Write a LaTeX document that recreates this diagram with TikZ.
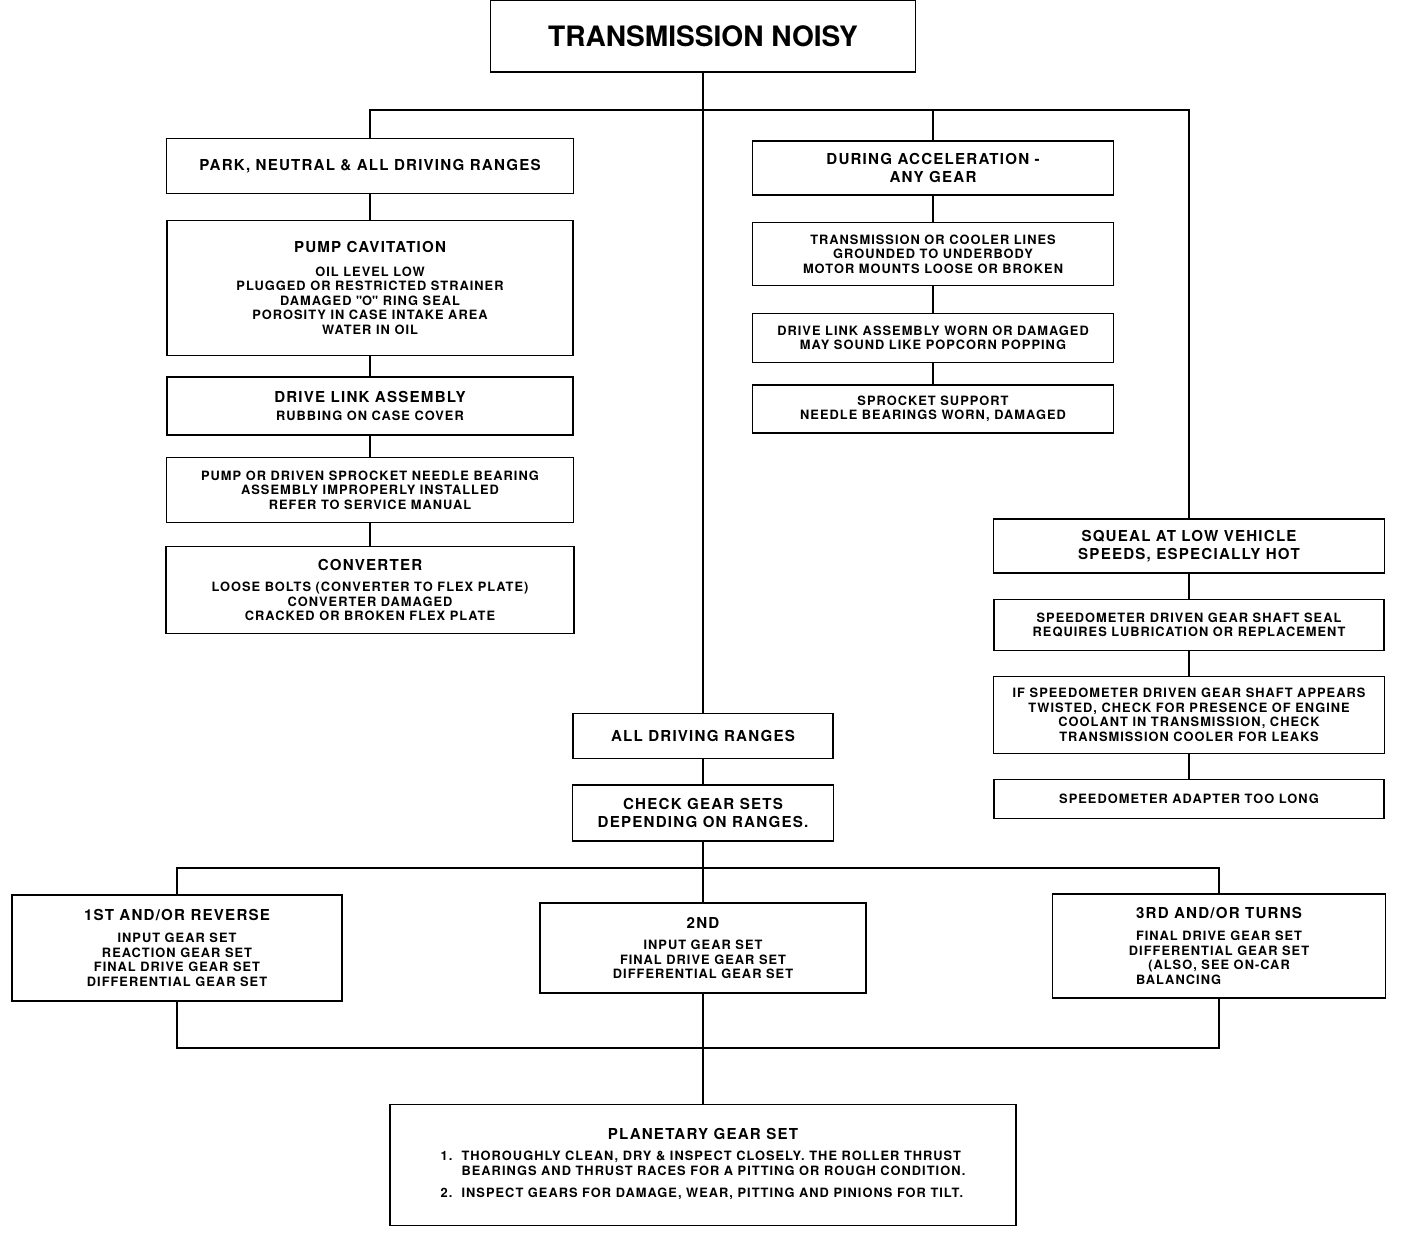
\documentclass[tikz,border=0pt]{standalone}
\usepackage{fontspec}
\setmainfont{TeX Gyre Heros}[LetterSpace=8]
\newfontfamily\tnTitleFont{TeX Gyre Heros}
\usetikzlibrary{positioning,calc}
\newcommand{\tnItem}{\bfseries\fontsize{7.3}{8.3}\selectfont}
\newcommand{\tnHead}[1]{{\fontsize{8.6}{10}\selectfont #1}}
\tikzset{
    tnBox/.style={
        draw=black,
        line width=1pt,
        align=center,
        inner sep=0pt,
        font=\tnItem
    },
    tnSize/.style 2 args={minimum width=#1*0.02cm, minimum height=#2*0.02cm},
    tnLine/.style={line width=1pt, draw=black}
}

\begin{document}
\begin{tikzpicture}[x=0.02cm,y=-0.02cm]
    \useasboundingbox (0,0) rectangle (1408,1232);

    % title
    \node[tnBox,tnSize={425}{72}] (noisy) at (703,36)
        {\tnTitleFont\bfseries\fontsize{16}{19}\selectfont TRANSMISSION NOISY};

    % park, neutral & all driving ranges
    \node[tnBox,tnSize={407}{55}] (park) at (370,166)
        {\tnHead{PARK, NEUTRAL \& ALL DRIVING RANGES}};
    \node[tnBox,tnSize={406}{135}] (pump) at (370,288)
        {\tnHead{PUMP CAVITATION}\\[5pt]
         OIL LEVEL LOW\\PLUGGED OR RESTRICTED STRAINER\\
         DAMAGED \textquotedbl O\textquotedbl{} RING SEAL\\
         POROSITY IN CASE INTAKE AREA\\WATER IN OIL};
    \node[tnBox,tnSize={406}{58}] (link) at (370,406)
        {\tnHead{DRIVE LINK ASSEMBLY}\\[2pt]RUBBING ON CASE COVER};
    \node[tnBox,tnSize={407}{65}] (sprocket) at (370,490)
        {PUMP OR DRIVEN SPROCKET NEEDLE BEARING\\ASSEMBLY IMPROPERLY INSTALLED\\
         REFER TO SERVICE MANUAL};
    \node[tnBox,tnSize={408}{87}] (conv) at (370,590)
        {\tnHead{CONVERTER}\\[4pt]
         LOOSE BOLTS (CONVERTER TO FLEX PLATE)\\CONVERTER DAMAGED\\
         CRACKED OR BROKEN FLEX PLATE};

    % during acceleration
    \node[tnBox,tnSize={361}{54}] (accel) at (933,168)
        {\tnHead{DURING ACCELERATION -}\\[2pt]\tnHead{ANY GEAR}};
    \node[tnBox,tnSize={361}{63}] (cooler) at (933,254)
        {TRANSMISSION OR COOLER LINES\\GROUNDED TO UNDERBODY\\
         MOTOR MOUNTS LOOSE OR BROKEN};
    \node[tnBox,tnSize={361}{49}] (worn) at (933,338)
        {DRIVE LINK ASSEMBLY WORN OR DAMAGED\\MAY SOUND LIKE POPCORN POPPING};
    \node[tnBox,tnSize={361}{48}] (support) at (933,409)
        {SPROCKET SUPPORT\\NEEDLE BEARINGS WORN, DAMAGED};

    % squeal
    \node[tnBox,tnSize={391}{54}] (squeal) at (1189,546)
        {\tnHead{SQUEAL AT LOW VEHICLE}\\[2pt]\tnHead{SPEEDS, ESPECIALLY HOT}};
    \node[tnBox,tnSize={390}{51}] (seal) at (1189,625)
        {SPEEDOMETER DRIVEN GEAR SHAFT SEAL\\REQUIRES LUBRICATION OR REPLACEMENT};
    \node[tnBox,tnSize={391}{77}] (twisted) at (1189,715)
        {IF SPEEDOMETER DRIVEN GEAR SHAFT APPEARS\\TWISTED, CHECK FOR PRESENCE OF ENGINE\\
         COOLANT IN TRANSMISSION, CHECK\\TRANSMISSION COOLER FOR LEAKS};
    \node[tnBox,tnSize={390}{39}] (adapter) at (1189,799)
        {SPEEDOMETER ADAPTER TOO LONG};

    % all driving ranges
    \node[tnBox,tnSize={260}{45}] (alldrive) at (703,736)
        {\tnHead{ALL DRIVING RANGES}};
    \node[tnBox,tnSize={261}{56}] (check) at (703,813)
        {\tnHead{CHECK GEAR SETS}\\[2pt]\tnHead{DEPENDING ON RANGES.}};

    % gear ranges
    \node[tnBox,tnSize={330}{106}] (first) at (177,948)
        {\tnHead{1ST AND/OR REVERSE}\\[4pt]
         INPUT GEAR SET\\REACTION GEAR SET\\FINAL DRIVE GEAR SET\\DIFFERENTIAL GEAR SET};
    \node[tnBox,tnSize={326}{90}] (second) at (703,948)
        {\tnHead{2ND}\\[4pt]
         INPUT GEAR SET\\FINAL DRIVE GEAR SET\\DIFFERENTIAL GEAR SET};
    \node[tnBox,tnSize={333}{104}] (third) at (1219,946)
        {\tnHead{3RD AND/OR TURNS}\\[4pt]
         FINAL DRIVE GEAR SET\\DIFFERENTIAL GEAR SET\\
         (ALSO, SEE ON-CAR\hspace*{43pt}\\BALANCING\hspace*{46pt}};

    % planetary gear set
    \node[tnBox,tnSize={626}{121}] (planet) at (703,1165)
        {\tnHead{PLANETARY GEAR SET}\\[5pt]
         \begin{tabular}{@{}l@{\ \ }l@{}}
         1. & THOROUGHLY CLEAN, DRY \& INSPECT CLOSELY. THE ROLLER THRUST\\
            & BEARINGS AND THRUST RACES FOR A PITTING OR ROUGH CONDITION.\\[4pt]
         2. & INSPECT GEARS FOR DAMAGE, WEAR, PITTING AND PINIONS FOR TILT.
         \end{tabular}};

    % connectors
    \coordinate (topbar) at (703,110);
    \coordinate (midbar) at (703,868);
    \coordinate (lowbar) at (703,1048);

    \draw[tnLine] (noisy) -- (alldrive);
    \draw[tnLine] (park.north) |- (squeal.north |- topbar) -- (squeal.north);
    \draw[tnLine] (accel.north) -- (accel.north |- topbar);

    \draw[tnLine] (park) -- (pump);
    \draw[tnLine] (pump) -- (link);
    \draw[tnLine] (link) -- (sprocket);
    \draw[tnLine] (sprocket) -- (conv);

    \draw[tnLine] (accel) -- (cooler);
    \draw[tnLine] (cooler) -- (worn);
    \draw[tnLine] (worn) -- (support);

    \draw[tnLine] (squeal) -- (seal);
    \draw[tnLine] (seal) -- (twisted);
    \draw[tnLine] (twisted) -- (adapter);

    \draw[tnLine] (alldrive) -- (check);
    \draw[tnLine] (check) -- (second);
    \draw[tnLine] (first.north) |- (midbar) -| (third.north);

    \draw[tnLine] (first.south) |- (lowbar) -| (third.south);
    \draw[tnLine] (second) -- (planet);
\end{tikzpicture}
\end{document}
